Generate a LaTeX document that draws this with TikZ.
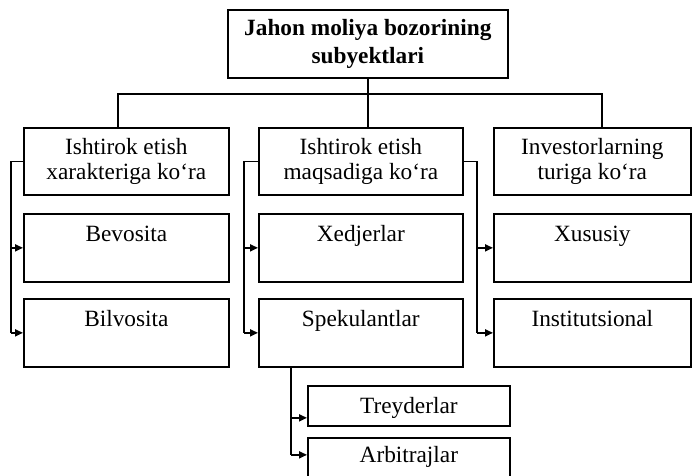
\documentclass[tikz,border=0pt]{standalone}
\usepackage{fontspec}
\setmainfont{Liberation Serif}
\usetikzlibrary{arrows.meta}
\begin{document}
\begin{tikzpicture}[x=1pt,y=-1pt,
  box/.style={draw, line width=1.7pt, rectangle, inner sep=0pt, align=center,
    anchor=north west, font=\fontsize{23.3}{25.5}\selectfont},
  titlebox/.style={box, font=\fontsize{23.3}{28}\selectfont\bfseries},
  topbox/.style={box, minimum width=#1, text height=27.5pt, text depth=40.5pt},
  smallbox/.style={box, minimum width=202pt, text height=27.5pt, text depth=12.5pt},
  conn/.style={line width=1.7pt},
  arr/.style={line width=1.7pt, -{Triangle[length=8pt,width=7pt]}}]
\useasboundingbox (0,0) rectangle (695,475);

% top
\node[titlebox, minimum width=280pt, minimum height=68pt] (top) at (227,9) {Jahon moliya bozorining\\subyektlari};

% row 2 headers
\node[box, minimum width=205pt, minimum height=67pt] (L0) at (23,127) {Ishtirok etish\\xarakteriga ko‘ra};
\node[box, minimum width=204pt, minimum height=67pt] (M0) at (258,127) {Ishtirok etish\\maqsadiga ko‘ra};
\node[box, minimum width=197pt, minimum height=67pt] (R0) at (493,127) {Investorlarning\\turiga ko‘ra};

% row 3
\node[topbox=205pt] (L1) at (23,213) {Bevosita};
\node[topbox=205pt] (L2) at (23,298) {Bilvosita};
\node[topbox=204pt] (M1) at (258,213) {Xedjerlar};
\node[topbox=204pt] (M2) at (258,298) {Spekulantlar};
\node[topbox=197pt] (R1) at (493,213) {Xususiy};
\node[topbox=197pt] (R2) at (493,298) {Institutsional};

% row 4
\node[smallbox] (T1) at (307,385) {Treyderlar};
\node[smallbox, text height=24.5pt, text depth=15.5pt] (T2) at (307,437) {Arbitrajlar};

% coordinates for the connector lines
\coordinate (bl) at (118,94);
\coordinate (br) at (602,94);
\coordinate (lx) at (11,0);
\coordinate (mx) at (244,0);
\coordinate (rx) at (477,0);
\coordinate (sx) at (291,0);

% bus
\draw[conn] (top.south) -- (top.south |- M0.north);
\draw[conn] (bl |- L0.north) -- (bl) -- (br) -- (br |- R0.north);

% left column
\draw[conn] (L0.west) -- (L0.west -| lx) -- (L2.west -| lx);
\draw[arr] (L1.west -| lx) -- (L1.west);
\draw[arr] (L2.west -| lx) -- (L2.west);

% middle column
\draw[conn] (M0.west) -- (M0.west -| mx) -- (M2.west -| mx);
\draw[arr] (M1.west -| mx) -- (M1.west);
\draw[arr] (M2.west -| mx) -- (M2.west);

% right column
\draw[conn] (M0.east) -- (M0.east -| rx) -- (R2.west -| rx);
\draw[arr] (R1.west -| rx) -- (R1.west);
\draw[arr] (R2.west -| rx) -- (R2.west);

% spekulantlar sub-branch
\coordinate (t1a) at ([yshift=-12pt]T1.west);
\coordinate (t2a) at ([yshift=3pt]T2.west);
\draw[conn] (M2.south -| sx) -- (t2a -| sx);
\draw[arr] (t1a -| sx) -- (t1a);
\draw[arr] (t2a -| sx) -- (t2a);
\end{tikzpicture}
\end{document}
